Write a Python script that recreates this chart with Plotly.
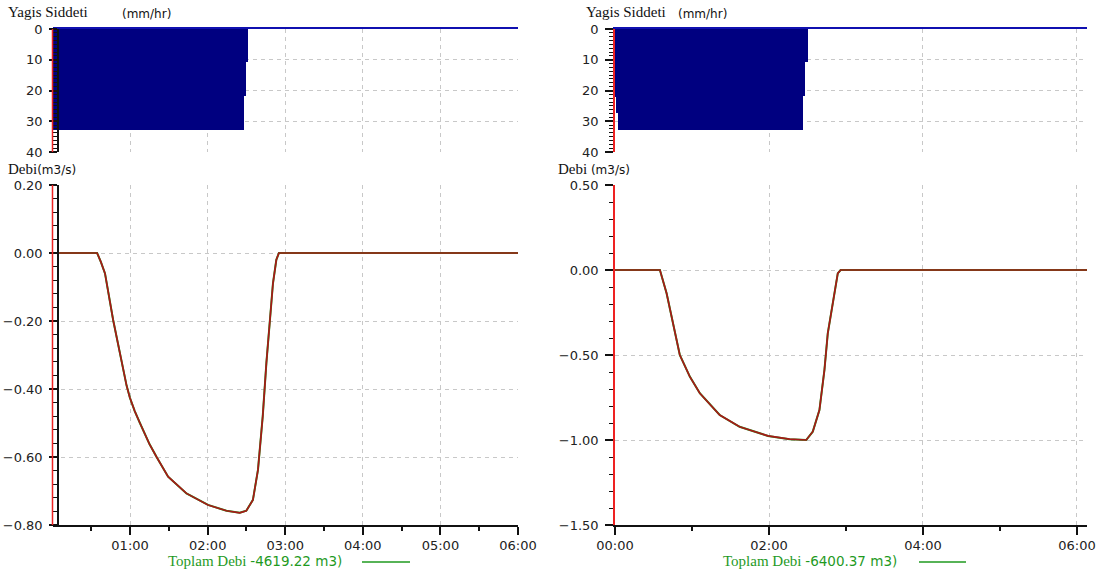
import plotly.graph_objects as go

W, H = 1109, 577

# ---------------- data ----------------
# rainfall intensity blocks (time in minutes, mm/hr)
rain1_start = [0.0, 147.6, 149.0]
rain1_end = [147.6, 149.0, 151.0]
rain1_val = [32.8, 21.7, 10.7]

rain2_start = [0.0, 1.3, 2.6, 146.7, 148.2]
rain2_end = [1.3, 2.6, 146.7, 148.2, 150.2]
rain2_val = [22.0, 27.4, 32.8, 21.7, 10.7]

# discharge hydrographs (time in minutes, m3/s)
flow1_t = [0, 34.5, 37.4, 40.6, 46.9, 57.3, 59.8, 63.6, 67.6, 75.0, 80.5, 89.4, 103.6,
           120.3, 134.5, 144.8, 149.9, 155.0, 158.9, 161.5, 162.6, 165.4, 167.9, 170.5,
           173.1, 175.1, 360]
flow1_q = [0.0, 0.0, -0.026, -0.06, -0.197, -0.39, -0.425, -0.465, -0.50, -0.562, -0.60,
           -0.658, -0.707, -0.741, -0.758, -0.764, -0.758, -0.726, -0.638, -0.54, -0.48,
           -0.324, -0.197, -0.089, -0.02, 0.0, 0.0]

flow2_t = [0, 35.0, 40.2, 45.4, 50.5, 58.3, 66.1, 81.6, 97.1, 119.2, 136.0, 149.0, 154.1,
           159.3, 163.2, 165.8, 169.2, 171.0, 173.6, 175.8, 367.8]
flow2_q = [0.0, 0.0, -0.137, -0.314, -0.5, -0.627, -0.725, -0.853, -0.922, -0.976, -0.995,
           -1.0, -0.951, -0.824, -0.588, -0.373, -0.216, -0.118, -0.02, 0.0, 0.0]

total1 = "-4619.22"
total2 = "-6400.37"

x1_tickvals = [60, 120, 180, 240, 300, 360]
x1_ticktext = ["01:00", "02:00", "03:00", "04:00", "05:00", "06:00"]
x2_tickvals = [0, 120, 240, 360]
x2_ticktext = ["00:00", "02:00", "04:00", "06:00"]

rain_ticks = [0, 10, 20, 30, 40]
flow1_ticks = [-0.8, -0.6, -0.4, -0.2, 0.0, 0.2]
flow2_ticks = [-1.5, -1.0, -0.5, 0.0, 0.5]

# ---------------- helpers ----------------
def fx(px):
    return px / W

def fy(py):
    return 1 - py / H

GRID = "#c8c8c8"
DASH = "4px,4px"
NAVY = "#000080"
RED_LINE = "#a81818"
GREEN = "#1f9a1f"
TICKFONT = dict(family="DejaVu Sans", size=13, color="#222222")

fig = go.Figure()

def rain_bar(starts, ends, vals, xa, ya):
    centers = [(s + e) / 2 for s, e in zip(starts, ends)]
    widths = [e - s for s, e in zip(starts, ends)]
    fig.add_trace(go.Bar(x=centers, y=vals, width=widths, base=0,
                         marker=dict(color=NAVY, line=dict(width=0)),
                         xaxis=xa, yaxis=ya, showlegend=False))

rain_bar(rain1_start, rain1_end, rain1_val, "x", "y")
rain_bar(rain2_start, rain2_end, rain2_val, "x3", "y3")

for t, q, xa, ya in [(flow1_t, flow1_q, "x2", "y2"), (flow2_t, flow2_q, "x4", "y4")]:
    fig.add_trace(go.Scatter(x=t, y=q, mode="lines", line=dict(color=GREEN, width=2.0),
                             xaxis=xa, yaxis=ya, showlegend=False))
    fig.add_trace(go.Scatter(x=t, y=q, mode="lines", line=dict(color=RED_LINE, width=1.7),
                             xaxis=xa, yaxis=ya, showlegend=False))

L_dom = [fx(52.5), fx(518)]
R_dom = [fx(615), fx(1087)]
TOP_dom = [fy(152), fy(29)]
BOT_dom = [fy(525), fy(185)]

def top_x(dom, rng, grid_vals, anchor):
    return dict(domain=dom, range=rng, anchor=anchor, side="top", showline=True,
                linecolor="#1010b0", linewidth=1.5, ticks="", showticklabels=False,
                tickmode="array", tickvals=grid_vals, showgrid=True, gridcolor=GRID,
                griddash=DASH, zeroline=False, fixedrange=True, automargin=False)

def bot_x(dom, rng, tv, tt, minor_vals, grid_vals, anchor):
    return dict(domain=dom, range=rng, anchor=anchor, showline=True, linecolor="#111",
                linewidth=1.5, ticks="outside", ticklen=8, tickwidth=1.5, tickcolor="#111",
                tickmode="array", tickvals=tv, ticktext=tt, tickfont=TICKFONT,
                ticklabelstandoff=0,
                minor=dict(tickmode="array", tickvals=minor_vals, ticks="outside",
                           ticklen=4, tickwidth=1.5, tickcolor="#111", showgrid=False),
                showgrid=True, gridcolor=GRID, griddash=DASH, zeroline=False,
                fixedrange=True, automargin=False)

def y_axis(dom, rng, tv, fmt, minor_dtick, minor_len, linecolor, anchor, position=None):
    d = dict(domain=dom, range=rng, showline=True, linecolor=linecolor, linewidth=1.5,
             tickmode="array", tickvals=tv, ticks="outside", ticklen=8, tickwidth=1.5,
             tickcolor="#111", tickfont=TICKFONT, ticklabelstandoff=4,
             minor=dict(dtick=minor_dtick, ticks="outside", ticklen=minor_len,
                        tickwidth=1.2, tickcolor="#111", showgrid=False),
             showgrid=True, gridcolor=GRID, griddash=DASH, zeroline=False,
             fixedrange=True, automargin=False)
    if fmt:
        d["tickformat"] = fmt
    if position is None:
        d["anchor"] = anchor
    else:
        d["anchor"] = "free"
        d["position"] = position
    return d

fig.update_layout(
    width=W, height=H, margin=dict(l=0, r=0, t=0, b=0, autoexpand=False),
    paper_bgcolor="white", plot_bgcolor="white", bargap=0,
    xaxis=top_x(L_dom, [0, 360], x1_tickvals, "y"),
    xaxis3=top_x(R_dom, [0, 367.8], [120, 240, 360], "y3"),
    xaxis2=bot_x(L_dom, [0, 360], x1_tickvals, x1_ticktext, [30, 90, 150, 210, 270, 330],
                 x1_tickvals, "y2"),
    xaxis4=bot_x(R_dom, [0, 367.8], x2_tickvals, x2_ticktext, [60, 180, 300],
                 x2_tickvals, "y4"),
    yaxis=y_axis(TOP_dom, [40, 0], rain_ticks, None, 1.25, 5, "#111", None, fx(58)),
    yaxis2=y_axis(BOT_dom, [-0.8, 0.2], flow1_ticks, ".2f", 0.04, 5, "#111", None, fx(58)),
    yaxis3=y_axis(TOP_dom, [40, 0], rain_ticks, None, 1.25, 4, "#ee2222", "x3"),
    yaxis4=y_axis(BOT_dom, [-1.5, 0.5], flow2_ticks, ".2f", 0.1, 4, "#ee2222", "x4"),
)

# red vertical time-origin lines on the left chart
for xr, yr in [("x", "y"), ("x2", "y2")]:
    fig.add_shape(type="line", xref=f"{xr} domain", yref=f"{yr} domain",
                  x0=0, x1=0, y0=0, y1=1, line=dict(color="#ee2222", width=1.5))

SERIF = "Liberation Serif"
SANS = "DejaVu Sans"

def label(x, y, txt, family, size, color="#111"):
    fig.add_annotation(xref="paper", yref="paper", x=fx(x), y=fy(y), text=txt,
                       showarrow=False, xanchor="left", yanchor="middle",
                       font=dict(family=family, size=size, color=color))

label(6, 12, "Yagis Siddeti", SERIF, 15)
label(120, 14, "(mm/hr)", SANS, 12)
label(584, 12, "Yagis Siddeti", SERIF, 15)
label(676, 14, "(mm/hr)", SANS, 12)
label(6, 169, f"Debi<span style='font-family:{SANS};font-size:12px'>(m3/s)</span>", SERIF, 15)
label(556, 169, f"Debi <span style='font-family:{SANS};font-size:12px'>(m3/s)</span>", SERIF, 15)

for x0, tot, l0, l1 in [(166, total1, 362, 410), (721, total2, 919, 966)]:
    label(x0, 561, f"Toplam Debi <span style='font-family:{SANS};font-size:13.5px'>{tot} m3)</span>",
          SERIF, 15, GREEN)
    fig.add_shape(type="line", xref="paper", yref="paper", x0=fx(l0), x1=fx(l1),
                  y0=fy(562), y1=fy(562), line=dict(color=GREEN, width=1.5))

fig.write_html("out.html")
